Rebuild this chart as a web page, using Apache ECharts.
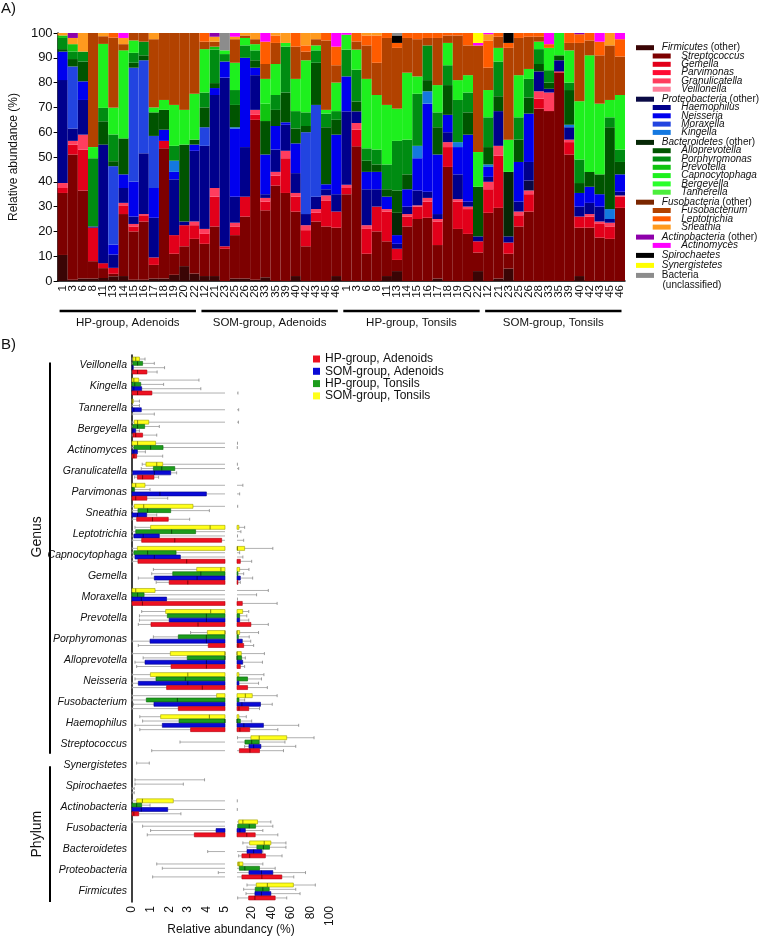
<!DOCTYPE html>
<html>
<head>
<meta charset="utf-8">
<script src="https://cdn.jsdelivr.net/npm/echarts@6.0.0/dist/echarts.min.js"></script>
<style>
html,body{margin:0;padding:0;background:#ffffff;}
#chart{width:760px;height:938px;}
</style>
</head>
<body>
<div id="chart"></div>
<script>
// ================= Panel A data =================
const hpSamples = ['1','3','6','8','11','13','14','15','16','17','18','19','20','22'];
const somSamples = ['12','21','23','25','26','28','33','35','39','40','42','43','45','46'];
const groupNames = ['HP-group, Adenoids','SOM-group, Adenoids','HP-group, Tonsils','SOM-group, Tonsils'];
const sampleLabels = [...hpSamples, ...somSamples, ...hpSamples, ...somSamples];
const abundanceMax = 100;

const firmicutesOther = [
 10.5,0.5,1,1,1.2,1.9,2,0.5,0.5,1,1,2.5,6,3,
 2,2,0,1,1,0.5,1.5,0,0,2,0,0,0,2,
 0,0,0,0,2,4,0,0,0,1,0,0,0,4,
 0,1,5,0,0,0,0,0,0,2,0,0,0,0];
const streptococcus = [
 25,50.5,35.5,7,4,1,25,19.5,23.5,5.5,52.5,8.5,8,14,
 13,20,13,17.5,25,64.5,27,38.5,35.5,26,14,24,22,19.5,
 35,54.3,11,20,14,4.5,22,25,25.5,13.5,46,21,19,7.5,
 27.5,28.5,6,22,28,69.5,68.5,84,51,19.5,21.5,17.5,17,29.5];
const gemella = [
 2,4,16.5,13.5,2,2.4,3.5,2,2.5,3,3,7.5,8.5,5.5,
 4,12,1,3.5,8,2,3.5,4,14,6,6.5,3.5,10.5,6.5,
 2.5,6.7,10,10,12,4.5,4,5,6.5,9.5,8,11,10,4.5,
 9.5,21,4.5,4.5,7,4,0,0.5,5,4.5,4.5,5.5,5,4.5];
const parvimonas = [
 0,0,0,0,0,0,0,0,0,0,0,0,0,0,
 0,0,0,0,0,0,0,0,0,0,0,0,0,0,
 0,0,0,0,0,0,0,0,0,0,0,0,0,0,
 0,0,0,0,0,0,0,0,0,0,0,0,0,0];
const granulicatella = [
 2,1.5,6,0,0,0,1,1,0.5,0,0,0,0,1.5,
 2,3.5,0,1.5,0,2,1.5,1.5,3,1.5,2,1.5,2,0,
 1.3,2.7,1.5,0,1,0,1,0.5,1.5,1,2,1,1,0,
 3,4,0,1.5,1.5,3,7.5,0,1,0,1,1,1.5,0.5];
const veillonella = [
 0,0,0,0,0,0,0,0,0,0,0,0,0,0,
 0,0,0,0,0,0,0,0,0,0,0,0,0,0,
 0,0,0,0,0,0,0,0,0,0,0,0,0,0,
 0,0,0,0,0,0,0,0,0,0,0,0,0,0];
const proteobacteriaOther = [
 0,0,0,0,0,0,0,0,0,0,0,0,0,0,
 0,0,0,0,0,0,0,0,0,0,0,0,0,0,
 0,0,0,0,0,0,0,0,0,0,0,0,0,0,
 0,0,0,0,4,0,0,0,0,0,0,0,0,0];
const haemophilus = [
 41.5,5,14,0.5,47.8,5.4,6,3,24.5,16,0,22.5,1.5,28.5,
 33.5,37.5,68,10.5,20,14,1.5,9,10.5,8,4.5,5,2.5,7,
 29.6,4.7,14.5,7,0,2,3,6,2.5,2,4,10,2,2,
 2,14,2.5,4,7.5,8,1.5,4.5,5,4,4.5,6,1.5,1.5];
const neisseria = [
 11.5,0,7.5,0,0,4,5.5,14,0,12,4.5,3,0,2.5,
 0,2.8,6.5,27.5,36,3,16,9.5,1,12,0,0,2,24,
 14.1,0,7,7,5,3.5,7,13,35.5,24,7,11,27,0,
 4,0,0,16,19.5,0,0,0,0,5.5,6.5,5,0,7];
const moraxella = [
 0,25,0,0,0,31.6,0,46,37.5,21,0,0,0,0,
 7.5,0,0,0,0,0,0,0,0,0,33,37,0,0,
 0,0,0,0,0,0,0,0,0,0,0,0,0,0,
 0,0,0,0,0,0,0,0,0,0,0,0,0,0];
const kingella = [
 0,0,0,0,0,0,0,0,0,0,0,4.5,0,0,
 0,0,0,0.5,0,0,0,0,0,0,0,0,0,0,
 0,0,0,0,0,0,0,5,5,0,0,2,0,0,
 1,0,0,0,0,0,0,0,1,0,0,0,4,0];
const bacteroidetesOther = [
 0,0,0,0,0,0,0,0,0,0,0,0,0,0,
 0,0,0,0,0,0,0,0,0,0,0,0,0,0,
 0,0,0,0,0,9,0,0,0,0,0,0,0,0,
 0,0,26,0,0,0,0,0,0,0,0,0,0,0];
const alloprevotella = [
 1,3,8,0,9.4,2,14.5,2,2,9.5,8,0,31,2,
 8,2,0,9,0,3,13.5,6.5,12,6,2.5,17,23,6,
 0,4,4.5,3,3,9,6,0,4.5,11,12,0,9,20,
 7,6,0,9,6.5,3,2.5,2,14,4,6,8,33,5];
const porphyromonas = [
 4.5,3,4,27.5,5.4,10.8,0,4,5.5,0,0,6,0,0,
 6,13.5,3,6,5,4,0,6,18.5,7,5.5,5,5.5,3.5,
 10.8,12.8,5,6,10,20,14,21,14,6,8,17,8,0,
 12,14,0,9,7.5,6,5,0,3,9.5,0,0,4,5];
const prevotella = [
 1,3,0,0,0,0,0,0,0,0,0,0,0,0,
 0,1.2,0,0,0,0,7,0,0,0,0,0,0,0,
 0,0,0,0,0,0,0,0,0,0,0,0,0,0,
 0,0,0,0,0,0,0,0,0,0,0,0,0,0];
const capnocytophaga = [
 0,0,0,4.5,25.8,10.8,35.5,5,0,2,4,16.5,14,18.5,
 17.5,0,1.5,11,3,2.5,10,12.5,1.5,13,21,2,1.5,11.5,
 6,8.1,28,22,24,13,27,7,0,11,9,8,7,14,
 11,5.5,13,17,4,3,9,9,13,23.5,47,28.5,7,22];
const bergeyella = [
 0,0,0,0,0,0,0,0,0,0,0,0,0,0,
 0,0,0,0,0,0,0,0,0,0,0,0,0,0,
 0,0,0,0,0,0,0,0,0,0,0,0,0,0,
 0,0,0,0,0,0,0,0,0,0,0,0,0,0];
const tannerella = [
 0,0,0,0,0,0,0,0,0,0,0,0,0,0,
 0,0,0,0,0,0,0,0,0,0,0,0,0,0,
 0,0,0,0,0,0,0,0,0,0,0,0,0,0,
 0,0,0,0,0,0,0,0,0,0,0,0,0,0];
const fusobacteriaOther = [
 0,0,0,0,0,0,0,0,0,0,0,0,0,0,
 0,0,0,0,0,0,0,0,0,0,0,0,0,0,
 0,0,0,0,0,0,0,0,0,0,0,0,0,0,
 0,0,0,0,0,0,0,0,0,0,0,0,0,0];
const fusobacterium = [
 0,0,0,46,3.1,28.2,2.5,3,3.5,27.5,27,29,31,24.5,
 3,2,0,9.5,1,2,6,8.5,0,13,3.5,2.5,28,7,
 0,3.3,13.5,13,27,24.5,14,15,3,19,3,18,12,43,
 9,4.5,37,15,13,2,0,0,3,23.5,6,19.5,22,15.5];
const leptotrichia = [
 0,0,0,0,0,1.9,0,0,0,0,0,0,0,0,
 3.5,0,0,0,0,0,9,3,0,5.5,2.5,0,3,7.5,
 0,3.4,4,11,2,2,2,2.5,2,2,1,1,5,0,
 11,1.5,2,2,1.5,1.5,1.5,0,4,3.5,3,5.5,0,7];
const sneathia = [
 1,2.5,7.5,0,1.3,0,2.5,0,0,2.5,0,0,0,0,
 0,2,0,1,1,2.5,0,1,4,0,5,2.5,0,0,
 0,0,1,1,0,0,0,0,0,0,0,0,0,0,
 2.5,0,0,0,0,0,0,0,0,0,0,0,5,0];
const actinobacteriaOther = [
 0,2,0,0,0,0,0,0,0,0,0,0,0,0,
 0,1.5,0,0,0,0,0,0,0,0,0,0,0,0,
 0,0,0,0,0,0,0,0,0,0,0,0,0,0,
 0,0,0,0,0,0,0,0,0,0.5,0,0,0,0];
const actinomyces = [
 0,0,0,0,0,0,2,0,0,0,0,0,0,0,
 0,0,0,1.5,0,0,3.5,0,0,0,0,0,0,5.5,
 0.7,0,0,0,0,0,0,0,0,0,0,0,0,1,
 0.5,0,0,0,0,0,4.5,0,0,0,0,3.5,0,2.5];
const spirochaetes = [
 0,0,0,0,0,0,0,0,0,0,0,0,0,0,
 0,0,0,0,0,0,0,0,0,0,0,0,0,0,
 0,0,0,0,0,3,0,0,0,0,0,0,0,0,
 0,0,4,0,0,0,0,0,0,0,0,0,0,0];
const synergistetes = [
 0,0,0,0,0,0,0,0,0,0,0,0,0,0,
 0,0,0,0,0,0,0,0,0,0,0,0,0,0,
 0,0,0,0,0,0,0,0,0,0,0,0,0,4,
 0,0,0,0,0,0,0,0,0,0,0,0,0,0];
const unclassified = [
 0,0,0,0,0,0,0,0,0,0,0,0,0,0,
 0,0,7,0,0,0,0,0,0,0,0,0,0,0,
 0,0,0,0,0,1,0,0,0,0,0,0,0,0,
 0,0,0,0,0,0,0,0,0,0,0,0,0,0];

// ================= Panel B data =================
const boxCategories = ['Veillonella','Kingella','Tannerella','Bergeyella','Actinomyces','Granulicatella',
 'Parvimonas','Sneathia','Leptotrichia','Capnocytophaga','Gemella','Moraxella','Prevotella',
 'Porphyromonas','Alloprevotella','Neisseria','Fusobacterium','Haemophilus','Streptococcus',
 'Synergistetes','Spirochaetes','Actinobacteria','Fusobacteria','Bacteroidetes','Proteobacteria','Firmicutes'];
const genusCount = 19;
const leftTicks = [0,1,2,3,4,5];
const rightTicks = [20,40,60,80,100];
// [min, q1, median, q3, max]
const hpAdenoids = [
 [0,0.02,0.3,0.8,1.35],[0,0,0.3,1.07,6],[0,0,0,0.01,1.2],[0,0.05,0.2,0.57,1.33],[0,0,0.1,0.25,1.65],
 [0.14,0.29,0.57,1.18,1.43],[0,0,0.2,0.8,1.92],[0,0.25,1.1,1.95,3.1],[0,0.52,2.3,4.82,11.8],
 [0,0.32,2.94,8.4,20],[1.3,2.0,3.0,6,8.4],[0,0,0.56,10.4,46],[0.34,1.02,3.55,19.2,37],
 [0.34,4.1,6,11.8,22],[0.25,2.1,4.0,8.4,12.8],[0,1.86,3.78,15.8,36],[0,2.49,7,17,28],
 [0.42,3.15,8,18,46.7],[1.06,7.4,18.2,28,52.5],[0,0,0,0,0],[0,0,0,0,0.12],[0,0,0.1,0.36,2.63],
 [0.82,3.35,15,23.6,46.7],[6.7,10,18,34,51],[1.11,10,30.4,50.8,63],[5.7,16.9,23.3,44,55.8]];
const somAdenoids = [
 [0,0,0.02,0.07,1.75],[0,0,0.1,0.52,3.7],[0,0,0.1,0.5,6.7],[0,0,0.05,0.2,0.4],[0,0,0.1,0.29,0.72],
 [0,0.04,1.2,2.08,2.4],[0,0,1.5,4.0,7.7],[0,0,0.3,0.79,1.33],[0,0.1,0.6,1.47,5.5],
 [0,0.16,1.2,2.6,11],[0.34,1.2,3.5,8.4,21],[0,0,0.5,1.86,5.5],[0.4,2.0,4,7.7,17],
 [0,0.97,4,10.4,19],[0.16,0.7,4,10.8,31],[0,0.34,3,7,27],[0.07,1.18,10,29,41],
 [0.16,1.63,12,32,68],[12.8,17.2,22,29.4,65],[0,0,0,0,0],[0,0,0,0,0.12],[0,0,0.5,1.92,5.3],
 [1.0,4.52,8,13.5,31.4],[4.07,15.2,22,30.4,31.4],[4.64,17.2,30,41.6,75],[14.2,23.3,30,39.6,69.4]];
const hpTonsils = [
 [0,0.05,0.3,0.57,1.2],[0,0,0.15,0.47,1.7],[0,0,0,0.02,0.4],[0,0.04,0.3,0.68,1.47],[0,0.1,1.0,1.67,5.3],
 [0.5,1.15,1.6,2.3,6.7],[0,0,0.05,0.14,0.97],[0,0.32,0.84,2.08,4.16],[0,0.2,2.13,3.42,9],
 [0,0.1,0.84,2.37,7.7],[1.06,2.19,3.7,6,11.8],[0,0,0.3,0.65,25],[0.4,1.9,4,7.7,15],
 [1.15,2.49,4,6.4,17.5],[0.6,2.97,5,9.7,13.5],[0.16,1.29,2.87,15.8,30],[0,0.77,2.44,7,12.8],
 [0.57,2.53,5,8.4,20],[2.58,13.1,20,27.7,54],[0.25,0.25,0.25,0.25,0.93],[0.16,0.16,0.16,0.16,2.76],[0,0,0.25,0.52,0.97],
 [0.57,5.7,17.5,24,41.6],[15.2,25.3,32,38.2,55],[1.63,7.4,13,28,44],[11.8,23.6,31.4,37.9,65]];
const somTonsils = [
 [0,0.05,0.2,0.4,0.7],[0,0,0.1,0.36,3.6],[0,0,0.02,0.07,0.4],[0,0.12,0.3,0.9,6.5],[0,0,0.3,1.27,5.5],
 [0.55,0.75,1.33,1.65,5.4],[0,0,0.2,0.7,11],[0,0.12,0.63,3.28,5.7],[0.16,1.0,4.2,7,12.8],
 [0,0.29,5.5,12.8,41.6],[1.15,3.48,4.78,7.7,17.2],[0,0,0.2,1.24,37],[0.52,1.81,4.23,10.8,17],
 [3.15,4.05,5,7.7,27],[0,2.06,5,9.4,33],[0,0.99,3,7,32.5],[0,4.55,13.5,20.6,46],
 [0.42,1.54,4.16,7,14.5],[5.5,19.2,27.7,55.8,83.7],[0,0,0,0,0],[0.16,0.16,0.16,0.16,3.9],[0,0.25,0.56,2.22,5.3],
 [0,6.7,11,26,39.6],[11,17.9,32.8,39.6,55],[1.33,5.7,7,11,31.4],[15.2,24.7,36,62.6,85]];

// ================= styling / metadata =================
const FONT = '"Liberation Sans", Arial, Helvetica, sans-serif';
const taxa = [
 {name:'Firmicutes (other)', values:firmicutesOther, color:'#3a0505', level:0},
 {name:'Streptococcus', values:streptococcus, color:'#7d0000', level:1},
 {name:'Gemella', values:gemella, color:'#e2001a', level:1},
 {name:'Parvimonas', values:parvimonas, color:'#ff0a32', level:1},
 {name:'Granulicatella', values:granulicatella, color:'#ff3d5e', level:1},
 {name:'Veillonella', values:veillonella, color:'#ff7d99', level:1},
 {name:'Proteobacteria (other)', values:proteobacteriaOther, color:'#0a0a45', level:0},
 {name:'Haemophilus', values:haemophilus, color:'#00008c', level:1},
 {name:'Neisseria', values:neisseria, color:'#0000ee', level:1},
 {name:'Moraxella', values:moraxella, color:'#2244e0', level:1},
 {name:'Kingella', values:kingella, color:'#1478e0', level:1},
 {name:'Bacteroidetes (other)', values:bacteroidetesOther, color:'#062806', level:0},
 {name:'Alloprevotella', values:alloprevotella, color:'#005400', level:1},
 {name:'Porphyromonas', values:porphyromonas, color:'#008c12', level:1},
 {name:'Prevotella', values:prevotella, color:'#10c410', level:1},
 {name:'Capnocytophaga', values:capnocytophaga, color:'#1ef01e', level:1},
 {name:'Bergeyella', values:bergeyella, color:'#2aff2a', level:1},
 {name:'Tannerella', values:tannerella, color:'#4cee3c', level:1},
 {name:'Fusobacteria (other)', values:fusobacteriaOther, color:'#7a2600', level:0},
 {name:'Fusobacterium', values:fusobacterium, color:'#b24200', level:1},
 {name:'Leptotrichia', values:leptotrichia, color:'#ff5c00', level:1},
 {name:'Sneathia', values:sneathia, color:'#ff9a1e', level:1},
 {name:'Actinobacteria (other)', values:actinobacteriaOther, color:'#8e00aa', level:0},
 {name:'Actinomyces', values:actinomyces, color:'#ff00ff', level:1},
 {name:'Spirochaetes', values:spirochaetes, color:'#000000', level:0},
 {name:'Synergistetes', values:synergistetes, color:'#ffff00', level:0},
 {name:'Bacteria (unclassified)', values:unclassified, color:'#8c8c8c', level:0}
];
const boxGroups = [
 {name:'SOM-group, Tonsils', stats:somTonsils, color:'#ffff1a', border:'#a0a000', median:'#6a6a00', order:0},
 {name:'HP-group, Tonsils', stats:hpTonsils, color:'#1c9c1c', border:'#0c6a0c', median:'#063806', order:1},
 {name:'SOM-group, Adenoids', stats:somAdenoids, color:'#0a0ad6', border:'#00008a', median:'#000050', order:2},
 {name:'HP-group, Adenoids', stats:hpAdenoids, color:'#ee1122', border:'#b0000c', median:'#600000', order:3}
];

const chart = echarts.init(document.getElementById('chart'), null, {renderer:'canvas', width:760, height:938});

// ---- Panel A series ----
const barSeries = taxa.map(t => ({
  type:'bar', name:t.name, stack:'abund', xAxisIndex:0, yAxisIndex:0,
  data:t.values, barWidth:'100%', itemStyle:{color:t.color},
  emphasis:{disabled:true}, silent:true
}));

// ---- Panel A legends (one per row to allow indentation) ----
function legendLabel(t) {
  const m = t.name.match(/^(\S+) \((other)\)$/);
  if (m) return ' {i|' + m[1] + '} {n|(other)}';
  if (t.name === 'Bacteria (unclassified)') return ' {n|Bacteria}';
  if (t.level === 0) return ' {i|' + t.name + '}';
  return '  {i|' + t.name + '}';
}
const legends = [];
let rowY = 47.7;
taxa.forEach((t, i) => {
  if (i > 0) rowY += (t.level === 0 ? 10 : 8.3);
  legends.push({
    data:[{name:t.name, icon:'rect'}], orient:'vertical',
    left: t.level === 0 ? 636 : 652.7, top: rowY - 5,
    padding:0, itemGap:0, itemWidth:18, itemHeight:5, selectedMode:false,
    formatter: () => legendLabel(t),
    textStyle:{fontSize:10, lineHeight:10, color:'#111', fontFamily:FONT,
      rich:{i:{fontStyle:'italic', fontSize:10, fontFamily:FONT, color:'#111'},
            n:{fontStyle:'normal', fontSize:10, fontFamily:FONT, color:'#111'}}}
  });
});
const unclassifiedRowY = rowY;

// ---- Panel B legend ----
legends.push({
  data:['HP-group, Adenoids','SOM-group, Adenoids','HP-group, Tonsils','SOM-group, Tonsils'].map(n => ({name:n, icon:'rect'})),
  orient:'vertical', left:313, top:353, padding:0, itemGap:0.3, itemWidth:7, itemHeight:7,
  selectedMode:false,
  textStyle:{fontSize:12, lineHeight:12, color:'#111', fontFamily:FONT}
});

// ---- Panel B box renderer ----
function boxRenderer(lo, hi, g) {
  return function (params, api) {
    const cat = api.value(0);
    const mn = api.value(1), q1 = api.value(2), md = api.value(3), q3 = api.value(4), mx = api.value(5);
    const band = api.size([0, 1])[1];
    const pitch = band * 0.205, half = band * 0.095;
    const yc = api.coord([lo, cat])[1] + (g.order - 1.5) * pitch;
    const X = v => api.coord([Math.min(hi, Math.max(lo, v)), cat])[0];
    const children = [];
    if (mx > mn && mx > lo && mn < hi) {
      const x1 = X(mn), x2 = X(mx);
      children.push({type:'line', shape:{x1:x1, y1:yc, x2:x2, y2:yc}, style:{stroke:'#b0b0b0', lineWidth:1}});
      if (mn >= lo && mn <= hi) children.push({type:'line', shape:{x1:x1, y1:yc-1.5, x2:x1, y2:yc+1.5}, style:{stroke:'#888', lineWidth:0.8}});
      if (mx >= lo && mx <= hi) children.push({type:'line', shape:{x1:x2, y1:yc-1.5, x2:x2, y2:yc+1.5}, style:{stroke:'#888', lineWidth:0.8}});
    }
    if (q3 > q1 && q3 > lo && q1 < hi) {
      const b1 = X(q1), b2 = X(q3);
      if (b2 - b1 > 0.4) {
        children.push({type:'rect', shape:{x:b1, y:yc-half, width:b2-b1, height:2*half},
          style:{fill:g.color, stroke:g.border, lineWidth:0.6}});
        if (md > q1 && md < q3 && md >= lo && md <= hi) {
          const xm = X(md);
          children.push({type:'line', shape:{x1:xm, y1:yc-half, x2:xm, y2:yc+half}, style:{stroke:g.median, lineWidth:0.8}});
        }
      }
    }
    return {type:'group', children:children};
  };
}
const boxSeries = [];
boxGroups.forEach(g => {
  const data = g.stats.map((s, i) => [i, s[0], s[1], s[2], s[3], s[4]]);
  [[1, 0, 5], [2, 5, 100]].forEach(([ax, lo, hi]) => {
    boxSeries.push({
      type:'custom', name:g.name, xAxisIndex:ax, yAxisIndex:ax,
      renderItem: boxRenderer(lo, hi, g), data:data,
      encode:{x:[1,2,3,4,5], y:0}, itemStyle:{color:g.color}, silent:true
    });
  });
});

const axisText = {color:'#111', fontFamily:FONT};
const option = {
  animation:false,
  backgroundColor:'#ffffff',
  textStyle:{fontFamily:FONT},
  title:[
    {text:'A)', left:1, top:1, padding:0, textStyle:{fontSize:15, fontWeight:'normal', color:'#111', fontFamily:FONT}},
    {text:'B)', left:1, top:337, padding:0, textStyle:{fontSize:15, fontWeight:'normal', color:'#111', fontFamily:FONT}}
  ],
  legend: legends,
  grid:[
    {left:44, top:33, width:581, height:248},
    {left:132, top:355, width:93, height:547},
    {left:237, top:355, width:93, height:547}
  ],
  xAxis:[
    {type:'category', gridIndex:0, data:sampleLabels,
     axisLine:{lineStyle:{color:'#000', width:1.5}},
     axisTick:{alignWithLabel:true, length:4, lineStyle:{color:'#000'}},
     axisLabel:Object.assign({rotate:90, fontSize:11.5, margin:4, interval:0}, axisText)},
    {type:'value', gridIndex:1, min:leftTicks[0], max:leftTicks[leftTicks.length-1], interval:1,
     splitLine:{show:false},
     axisLine:{lineStyle:{color:'#000', width:1.5}},
     axisTick:{length:4, lineStyle:{color:'#000', width:1.2}},
     axisLabel:Object.assign({rotate:90, fontSize:12, margin:4}, axisText)},
    {type:'value', gridIndex:2, min:5, max:100,
     splitLine:{show:false},
     axisLine:{lineStyle:{color:'#000', width:1.5}},
     axisTick:{length:4, lineStyle:{color:'#000', width:1.2}, customValues:[5, ...rightTicks]},
     axisLabel:Object.assign({rotate:90, fontSize:12, margin:4, customValues:rightTicks}, axisText)}
  ],
  yAxis:[
    {type:'value', gridIndex:0, min:0, max:abundanceMax, interval:10,
     name:'Relative abundance (%)', nameLocation:'middle', nameGap:29, nameRotate:90,
     nameTextStyle:{fontSize:12, color:'#111', fontFamily:FONT},
     splitLine:{show:false},
     axisLine:{show:true, lineStyle:{color:'#000', width:1.5}},
     axisTick:{show:true, length:4, lineStyle:{color:'#000'}},
     axisLabel:Object.assign({fontSize:13, margin:5}, axisText)},
    {type:'category', gridIndex:1, data:boxCategories, inverse:true,
     axisLine:{show:true, onZero:false, lineStyle:{color:'#000', width:1.5}},
     axisTick:{show:false},
     axisLabel:Object.assign({fontSize:10.5, fontStyle:'italic', margin:5, interval:0, padding:[0,0,5,0]}, axisText)},
    {type:'category', gridIndex:2, data:boxCategories, inverse:true,
     axisLine:{show:false}, axisTick:{show:false}, axisLabel:{show:false}}
  ],
  series:[...barSeries, ...boxSeries]
};
chart.setOption(option);

// ---- annotations positioned from the library's own scales ----
const graphics = [];
const bandA = chart.convertToPixel({xAxisIndex:0}, 1) - chart.convertToPixel({xAxisIndex:0}, 0);
groupNames.forEach((gname, g) => {
  const first = g * 14, last = g * 14 + 13;
  const x1 = chart.convertToPixel({xAxisIndex:0}, first) - bandA/2 + 2;
  const x2 = chart.convertToPixel({xAxisIndex:0}, last) + bandA/2 - 3.5;
  graphics.push({type:'line', shape:{x1:x1, y1:311, x2:x2, y2:311}, style:{stroke:'#000', lineWidth:2.5}, silent:true});
  graphics.push({type:'text', x:(x1+x2)/2, y:323, silent:true,
    style:{text:gname, fill:'#111', font:'11.5px ' + FONT, textAlign:'center', textVerticalAlign:'middle'}});
});
graphics.push({type:'text', x:662.5, y:unclassifiedRowY + 10, silent:true,
  style:{text:'(unclassified)', fill:'#111', font:'10px ' + FONT, textAlign:'left', textVerticalAlign:'middle'}});

const yc = i => chart.convertToPixel({yAxisIndex:1}, i);
const bandB = yc(1) - yc(0);
const gTop = yc(0) - 3, gBot = yc(genusCount - 1) + 9.5;
const pTop = yc(genusCount) + 1, pBot = yc(boxCategories.length - 1) + bandB/2;
graphics.push({type:'line', shape:{x1:50, y1:gTop, x2:50, y2:gBot}, style:{stroke:'#000', lineWidth:2}, silent:true});
graphics.push({type:'line', shape:{x1:50, y1:pTop, x2:50, y2:pBot}, style:{stroke:'#000', lineWidth:2}, silent:true});
graphics.push({type:'text', x:37, y:yc(8) + 3, rotation:Math.PI/2, silent:true,
  style:{text:'Genus', fill:'#111', font:'14px ' + FONT, textAlign:'center', textVerticalAlign:'middle'}});
graphics.push({type:'text', x:37, y:(pTop + pBot)/2, rotation:Math.PI/2, silent:true,
  style:{text:'Phylum', fill:'#111', font:'14px ' + FONT, textAlign:'center', textVerticalAlign:'middle'}});
const xl = chart.convertToPixel({xAxisIndex:1}, 0), xr = chart.convertToPixel({xAxisIndex:2}, 100);
graphics.push({type:'text', x:(xl + xr)/2, y:930, silent:true,
  style:{text:'Relative abundancy (%)', fill:'#111', font:'12px ' + FONT, textAlign:'center', textVerticalAlign:'middle'}});

chart.setOption({graphic:{elements:graphics}});
</script>
</body>
</html>
